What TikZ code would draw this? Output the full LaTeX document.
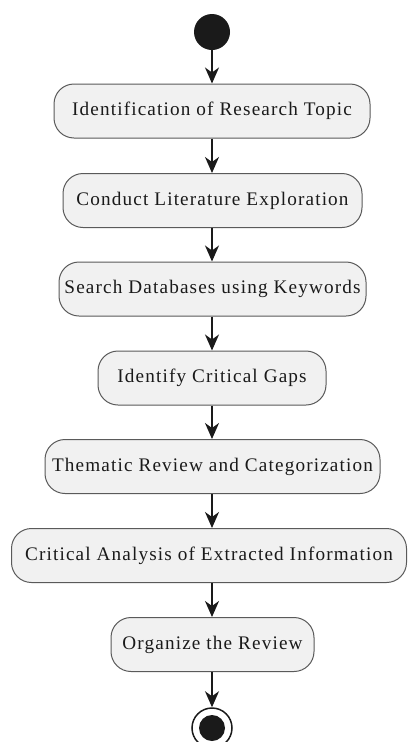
\documentclass[tikz,border=0pt]{standalone}
\usepackage{fontspec}
\setmainfont{Liberation Serif}[LetterSpace=6]
\usetikzlibrary{arrows.meta}
\definecolor{boxfill}{HTML}{F1F1F1}
\definecolor{boxline}{HTML}{5A5A5A}
\definecolor{ink}{HTML}{1A1A1A}
\tikzset{
  activity/.style={draw=boxline, line width=1pt, fill=boxfill, rounded corners=20pt,
    minimum height=54pt, inner sep=0pt, font=\fontsize{19.2}{22}\selectfont, text=ink},
  flow/.style={draw=ink, line width=1.6pt,
    -{Stealth[length=16pt,width=14pt,inset=5pt]}},
}
\begin{document}
\begin{tikzpicture}[x=1pt,y=-1pt]
  \useasboundingbox (0,0) rectangle (410,742);
  \fill[white] (0,0) rectangle (410,742);
  \begin{scope}
  \clip (0,0) rectangle (410,742);
  % start node
  \node[circle, fill=ink, minimum size=36pt, inner sep=0pt] (start) at (212,32) {};
  % activities
  \node[activity, minimum width=316pt] (a1) at (212,111) {Identification of Research Topic};
  \node[activity, minimum width=299pt] (a2) at (212.5,200.5) {Conduct Literature Exploration};
  \node[activity, minimum width=307pt] (a3) at (212.5,289) {Search Databases using Keywords};
  \node[activity, minimum width=228pt] (a4) at (212,378) {Identify Critical Gaps};
  \node[activity, minimum width=335pt] (a5) at (212.5,466.5) {Thematic Review and Categorization};
  \node[activity, minimum width=395pt] (a6) at (209,555.5) {Critical Analysis of Extracted Information};
  \node[activity, minimum width=203pt] (a7) at (212.5,644.5) {Organize the Review};
  % end node
  \node[circle, draw=ink, line width=1.5pt, fill=white, minimum size=40pt, inner sep=0pt] (stop) at (212,728) {};
  \node[circle, fill=ink, minimum size=26pt, inner sep=0pt] (stopdot) at (stop.center) {};
  % connectors
  \draw[flow] (start.south) -- (start.south |- a1.north);
  \draw[flow] (a1.south -| start) -- (a2.north -| start);
  \draw[flow] (a2.south -| start) -- (a3.north -| start);
  \draw[flow] (a3.south -| start) -- (a4.north -| start);
  \draw[flow] (a4.south -| start) -- (a5.north -| start);
  \draw[flow] (a5.south -| start) -- (a6.north -| start);
  \draw[flow] (a6.south -| start) -- (a7.north -| start);
  \draw[flow] (a7.south -| start) -- (stop.north);
  \end{scope}
\end{tikzpicture}
\end{document}
